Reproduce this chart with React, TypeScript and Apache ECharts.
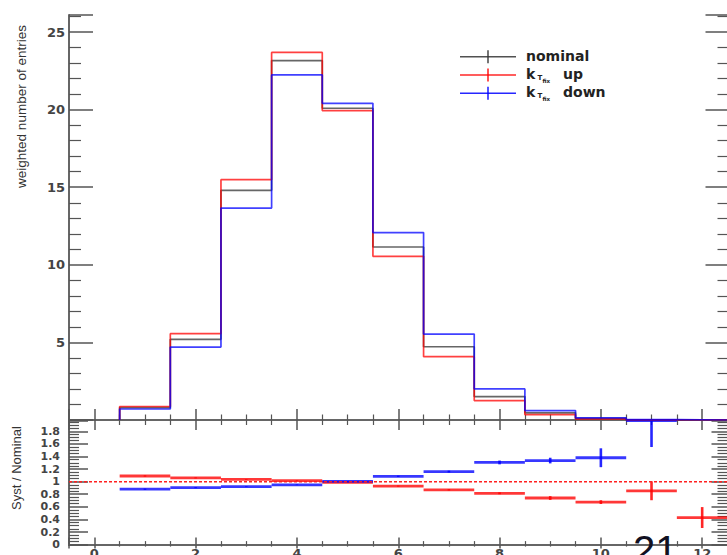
import React, { useEffect, useRef } from 'react';
import * as echarts from 'echarts';

// bin centres (bin width 1)
const binCenters = [1, 2, 3, 4, 5, 6, 7, 8, 9, 10, 11, 12];
// top panel: weighted number of entries
const nominal = [0.8, 5.2, 14.8, 23.16, 20.09, 11.15, 4.72, 1.51, 0.46, 0.1, 0.012, 0.006];
const kUp = [0.87, 5.56, 15.49, 23.69, 19.94, 10.55, 4.08, 1.25, 0.34, 0.068, 0.01, 0.0026];
const kDown = [0.71, 4.7, 13.66, 22.24, 20.41, 12.08, 5.54, 2.0, 0.61, 0.14, 0.024, 0];
// bottom panel: Syst / Nominal
const ratioUp = [1.09, 1.06, 1.035, 1.017, 0.99, 0.93, 0.87, 0.815, 0.74, 0.675, 0.855, 0.43];
const ratioUpErr = [0.01, 0.008, 0.006, 0.005, 0.005, 0.008, 0.01, 0.015, 0.03, 0.03, 0.15, 0.166];
const ratioDown = [0.88, 0.905, 0.92, 0.95, 1.005, 1.085, 1.16, 1.305, 1.335, 1.38, 1.97, null];
const ratioDownErr = [0.01, 0.008, 0.006, 0.005, 0.005, 0.01, 0.015, 0.03, 0.045, 0.15, 0.42, 0];

const legendItems = ['nominal', 'up', 'down'];
const pageNumber = '21';

const X_MIN = -0.5;
const X_MAX = 12.5;
const Y_TOP_MAX = 26.1;
const Y_BOT_MAX = 1.97;

const AXIS_COLOR = '#666';
const TICK_COLOR = '#555';
const LABEL_FONT = 'DejaVu Sans';

function stepOutline(values: number[]) {
  const pts: number[][] = [];
  pts.push([binCenters[0] - 0.5, 0]);
  values.forEach((v, i) => {
    pts.push([binCenters[i] - 0.5, v]);
    pts.push([binCenters[i] + 0.5, v]);
  });
  pts.push([binCenters[binCenters.length - 1] + 0.5, 0]);
  return pts;
}

function ratioSeries(vals: (number | null)[], errs: number[], color: string) {
  const data = binCenters
    .map((c, i) => [c, vals[i], errs[i]])
    .filter((d) => d[1] !== null);
  return {
    type: 'custom',
    xAxisIndex: 2,
    yAxisIndex: 2,
    data,
    z: 3,
    renderItem: (params: any, api: any) => {
      const x = api.value(0);
      const r = api.value(1);
      const e = api.value(2);
      const pL = api.coord([x - 0.5, r]);
      const pR = api.coord([x + 0.5, r]);
      const pT = api.coord([x, Math.min(r + e, Y_BOT_MAX)]);
      const pB = api.coord([x, Math.max(r - e, 0)]);
      return {
        type: 'group',
        children: [
          {
            type: 'line',
            shape: { x1: pL[0], y1: pL[1], x2: pR[0], y2: pR[1] },
            style: { stroke: color, lineWidth: 2.8, opacity: 0.78 },
          },
          {
            type: 'line',
            shape: { x1: pT[0], y1: pT[1], x2: pB[0], y2: pB[1] },
            style: { stroke: color, lineWidth: 2.6, opacity: 0.85 },
          },
        ],
      };
    },
  };
}

function xAxisDef(gridIndex: number, position: string, major: number, minor: number, labels: boolean) {
  return {
    type: 'value',
    gridIndex,
    position,
    min: X_MIN,
    max: X_MAX,
    splitNumber: 6,
    minInterval: 2,
    maxInterval: 2,
    axisLine: { show: true, lineStyle: { color: AXIS_COLOR, width: 2 } },
    axisTick: { show: true, inside: true, length: major, lineStyle: { color: TICK_COLOR, width: 1.5 } },
    minorTick: { show: true, splitNumber: 4, length: minor, lineStyle: { color: TICK_COLOR, width: 1.2 } },
    splitLine: { show: false },
    axisLabel: {
      show: labels,
      showMinLabel: false,
      showMaxLabel: false,
      margin: 2,
      fontFamily: LABEL_FONT,
      fontWeight: 'bold',
      fontSize: 13,
      color: '#444',
    },
  };
}

function yAxisDef(
  gridIndex: number,
  position: string,
  max: number,
  interval: number,
  minorSplit: number,
  major: number,
  minor: number,
  labels: boolean,
  fontSize: number,
  margin: number,
) {
  return {
    type: 'value',
    gridIndex,
    position,
    min: 0,
    max,
    interval,
    axisLine: { show: true, onZero: false, lineStyle: { color: AXIS_COLOR, width: 2 } },
    axisTick: { show: true, inside: true, length: major, lineStyle: { color: TICK_COLOR, width: 1.5 } },
    minorTick: { show: true, splitNumber: minorSplit, length: minor, lineStyle: { color: TICK_COLOR, width: 1.2 } },
    splitLine: { show: false },
    axisLabel: {
      show: labels,
      showMinLabel: gridIndex === 1,
      showMaxLabel: false,
      margin,
      fontFamily: LABEL_FONT,
      fontWeight: 'bold',
      fontSize,
      color: '#444',
      formatter: (v: number) => String(Math.round(v * 100) / 100),
    },
  };
}

export default function App() {
  const ref = useRef<HTMLDivElement>(null);

  useEffect(() => {
    if (!ref.current) return;
    const chart = echarts.init(ref.current, null, { renderer: 'svg' });

    const histLine = (vals: number[], color: string, z: number) => ({
      type: 'line',
      xAxisIndex: 0,
      yAxisIndex: 0,
      data: stepOutline(vals),
      symbol: 'none',
      silent: true,
      z,
      lineStyle: { color, width: 1.7, opacity: 0.75 },
    });

    const legendRows = [
      { y: 56.7, color: '#333' },
      { y: 75, color: '#ff0000' },
      { y: 93.3, color: '#0000ff' },
    ];
    const legendGraphics: any[] = [];
    legendRows.forEach((row, i) => {
      legendGraphics.push({
        type: 'line',
        shape: { x1: 460, y1: row.y, x2: 516, y2: row.y },
        style: { stroke: row.color, lineWidth: 1.6, opacity: 0.85 },
      });
      legendGraphics.push({
        type: 'line',
        shape: { x1: 488, y1: row.y - 6.5, x2: 488, y2: row.y + 6.5 },
        style: { stroke: row.color, lineWidth: 1.6, opacity: 0.85 },
      });
      const font = (s: number) => `bold ${s}px "DejaVu Sans"`;
      if (i === 0) {
        legendGraphics.push({
          type: 'text',
          x: 526,
          y: row.y - 1,
          style: { text: legendItems[0], font: font(14), fill: '#222', verticalAlign: 'middle' },
        });
      } else {
        legendGraphics.push({
          type: 'text',
          x: 526,
          y: row.y - 1,
          style: { text: 'k', font: font(14), fill: '#222', verticalAlign: 'middle' },
        });
        legendGraphics.push({
          type: 'text',
          x: 537.5,
          y: row.y + 3,
          style: { text: 'T', font: font(7), fill: '#222', verticalAlign: 'middle' },
        });
        legendGraphics.push({
          type: 'text',
          x: 542.5,
          y: row.y + 5.5,
          style: { text: 'fix', font: font(5.5), fill: '#222', verticalAlign: 'middle' },
        });
        legendGraphics.push({
          type: 'text',
          x: 563,
          y: row.y - 1,
          style: { text: legendItems[i], font: font(14), fill: '#222', verticalAlign: 'middle' },
        });
      }
    });

    const option: any = {
      animation: false,
      backgroundColor: '#ffffff',
      grid: [
        { left: 69, top: 15, width: 658.5, height: 405, containLabel: false, outerBoundsMode: 'none' },
        { left: 69, top: 420.6, width: 658.5, height: 124, containLabel: false, outerBoundsMode: 'none' },
      ],
      xAxis: [
        xAxisDef(0, 'bottom', 11, 5.5, false),
        xAxisDef(0, 'top', 10, 5, false),
        xAxisDef(1, 'bottom', 7, 3.5, true),
        xAxisDef(1, 'top', 4, 2, false),
      ],
      yAxis: [
        yAxisDef(0, 'left', Y_TOP_MAX, 5, 5, 24, 12, true, 13, 4),
        yAxisDef(0, 'right', Y_TOP_MAX, 5, 5, 22, 10, false, 13, 4),
        yAxisDef(1, 'left', Y_BOT_MAX, 0.2, 4, 19, 10, true, 11, 9),
        yAxisDef(1, 'right', Y_BOT_MAX, 0.2, 4, 16, 10, false, 11, 9),
      ],
      series: [
        histLine(nominal, '#333333', 2),
        histLine(kUp, '#ff0000', 3),
        histLine(kDown, '#0000ff', 4),
        {
          type: 'line',
          xAxisIndex: 2,
          yAxisIndex: 2,
          data: [
            [X_MIN, 1],
            [X_MAX, 1],
          ],
          symbol: 'none',
          silent: true,
          z: 4,
          lineStyle: { color: '#ff2020', width: 1.5, type: [3, 2] },
        },
        ratioSeries(ratioUp, ratioUpErr, '#ff0000'),
        ratioSeries(ratioDown, ratioDownErr, '#0000ff'),
      ],
      graphic: [
        ...legendGraphics,
        {
          type: 'text',
          x: 21,
          y: 106.5,
          rotation: Math.PI / 2,
          style: {
            text: 'weighted number of entries',
            font: '13.5px "Liberation Sans"',
            fill: '#333',
            align: 'center',
            verticalAlign: 'middle',
          },
        },
        {
          type: 'text',
          x: 16,
          y: 468,
          rotation: Math.PI / 2,
          style: {
            text: 'Syst / Nominal',
            font: '13px "Liberation Sans"',
            fill: '#333',
            align: 'center',
            verticalAlign: 'middle',
          },
        },
        {
          type: 'text',
          x: 633,
          y: 530,
          z: 100,
          style: {
            text: pageNumber,
            font: '40px "Liberation Sans"',
            fill: '#111122',
            verticalAlign: 'top',
          },
        },
      ],
    };

    chart.setOption(option);
    return () => chart.dispose();
  }, []);

  return (
    <div
      ref={ref}
      style={{ position: 'fixed', left: 0, top: 0, width: 727, height: 555, overflow: 'hidden', background: '#fff' }}
    />
  );
}
